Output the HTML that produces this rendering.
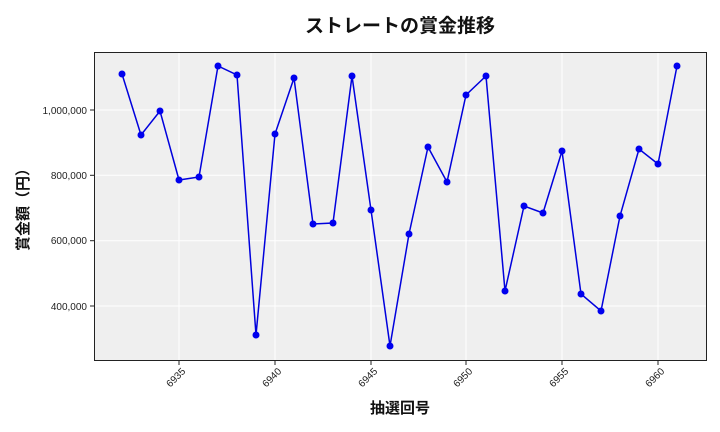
<!DOCTYPE html>
<html><head><meta charset="utf-8"><style>body{margin:0;background:#fff}svg{display:block}</style></head><body>
<svg width="720" height="432" xmlns="http://www.w3.org/2000/svg" font-family="Liberation Sans, Noto Sans CJK JP, sans-serif">
<rect x="94.5" y="52.5" width="612" height="308" fill="#efefef" stroke="#222" stroke-width="1"/>
<g stroke="#fff" stroke-width="1">
<line x1="179" y1="53" x2="179" y2="360"/><line x1="275" y1="53" x2="275" y2="360"/><line x1="371" y1="53" x2="371" y2="360"/><line x1="466" y1="53" x2="466" y2="360"/><line x1="562" y1="53" x2="562" y2="360"/><line x1="658" y1="53" x2="658" y2="360"/>
<line x1="95" y1="110" x2="706" y2="110"/><line x1="95" y1="175.3" x2="706" y2="175.3"/><line x1="95" y1="240.7" x2="706" y2="240.7"/><line x1="95" y1="306" x2="706" y2="306"/>
</g>
<g stroke="#222" stroke-width="1">
<line x1="179" y1="361" x2="179" y2="365"/><line x1="275" y1="361" x2="275" y2="365"/><line x1="371" y1="361" x2="371" y2="365"/><line x1="466" y1="361" x2="466" y2="365"/><line x1="562" y1="361" x2="562" y2="365"/><line x1="658" y1="361" x2="658" y2="365"/>
<line x1="90" y1="110" x2="94" y2="110"/><line x1="90" y1="175.3" x2="94" y2="175.3"/><line x1="90" y1="240.7" x2="94" y2="240.7"/><line x1="90" y1="306" x2="94" y2="306"/>
</g>
<g font-size="10" fill="#222" text-anchor="end">
<text x="87" y="114">1,000,000</text><text x="87" y="179">800,000</text><text x="87" y="244">600,000</text><text x="87" y="310">400,000</text>
<text transform="translate(186,372) rotate(-45)">6935</text>
<text transform="translate(282,372) rotate(-45)">6940</text>
<text transform="translate(378,372) rotate(-45)">6945</text>
<text transform="translate(473,372) rotate(-45)">6950</text>
<text transform="translate(569,372) rotate(-45)">6955</text>
<text transform="translate(665,372) rotate(-45)">6960</text>
</g>
<polyline fill="none" stroke="#0000dd" stroke-width="1.5" points="122,74 141,135 160,111 179,180 199,177 218,66 237,75 256,335 275,134 294,78 313,224 333,223 352,76 371,210 390,346 409,234 428,147 447,182 466,95 486,76 505,291 524,206 543,213 562,151 581,294 601,311 620,216 639,149 658,164 677,66"/>
<g fill="#0000ee">
<circle cx="122" cy="74" r="3.5"/><circle cx="141" cy="135" r="3.5"/><circle cx="160" cy="111" r="3.5"/><circle cx="179" cy="180" r="3.5"/><circle cx="199" cy="177" r="3.5"/><circle cx="218" cy="66" r="3.5"/><circle cx="237" cy="75" r="3.5"/><circle cx="256" cy="335" r="3.5"/><circle cx="275" cy="134" r="3.5"/><circle cx="294" cy="78" r="3.5"/><circle cx="313" cy="224" r="3.5"/><circle cx="333" cy="223" r="3.5"/><circle cx="352" cy="76" r="3.5"/><circle cx="371" cy="210" r="3.5"/><circle cx="390" cy="346" r="3.5"/><circle cx="409" cy="234" r="3.5"/><circle cx="428" cy="147" r="3.5"/><circle cx="447" cy="182" r="3.5"/><circle cx="466" cy="95" r="3.5"/><circle cx="486" cy="76" r="3.5"/><circle cx="505" cy="291" r="3.5"/><circle cx="524" cy="206" r="3.5"/><circle cx="543" cy="213" r="3.5"/><circle cx="562" cy="151" r="3.5"/><circle cx="581" cy="294" r="3.5"/><circle cx="601" cy="311" r="3.5"/><circle cx="620" cy="216" r="3.5"/><circle cx="639" cy="149" r="3.5"/><circle cx="658" cy="164" r="3.5"/><circle cx="677" cy="66" r="3.5"/>
</g>
<text x="400" y="32" font-size="19" font-weight="bold" text-anchor="middle" fill="#111">ストレートの賞金推移</text>
<text x="400" y="413" font-size="15" font-weight="bold" text-anchor="middle" fill="#111">抽選回号</text>
<text transform="translate(28,206) rotate(-90)" font-size="15" font-weight="bold" text-anchor="middle" fill="#111">賞金額（円）</text>
</svg>
</body></html>
